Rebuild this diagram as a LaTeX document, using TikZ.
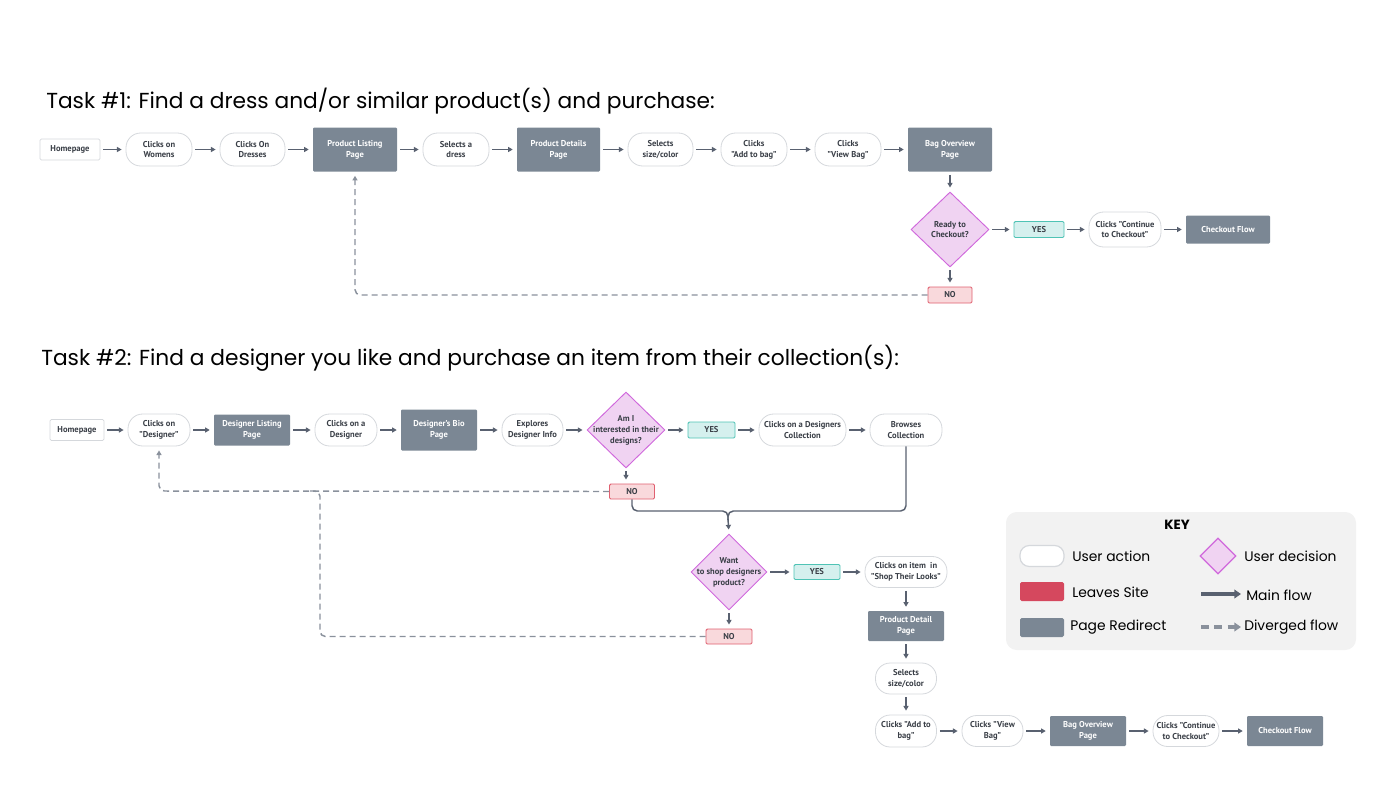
\documentclass[tikz,border=0pt]{standalone}
\usepackage{fontspec}
\setmainfont{PT Sans}
\newfontfamily\titlefont{Poppins}
\usetikzlibrary{shapes.geometric,arrows.meta}
\definecolor{pagegray}{HTML}{7B8794}
\definecolor{txtdark}{HTML}{3A3F47}
\definecolor{pillborder}{HTML}{D5D8DC}
\definecolor{arrowgray}{HTML}{596170}
\definecolor{dashgray}{HTML}{8A919C}
\definecolor{decfill}{HTML}{F0D3F2}
\definecolor{decborder}{HTML}{D068DC}
\definecolor{yesfill}{HTML}{D5F0EE}
\definecolor{yesborder}{HTML}{4FC3B5}
\definecolor{nofill}{HTML}{F9D9DC}
\definecolor{noborder}{HTML}{E06070}
\definecolor{leavered}{HTML}{D5485E}
\definecolor{keybg}{HTML}{F2F2F2}
\begin{document}
\begin{tikzpicture}[x=0.75pt,y=-0.75pt,
  base/.style={font=\bfseries\fontsize{6.4}{8.2}\selectfont, align=center, inner sep=0pt, text=txtdark},
  sz/.style 2 args={minimum width=#1*0.75pt, minimum height=#2*0.75pt},
  home/.style={base, draw=pillborder, fill=white, line width=0.6pt, rounded corners=1pt},
  act/.style={base, draw=pillborder, fill=white, line width=0.6pt, rounded corners=11pt},
  page/.style={base, fill=pagegray, text=white, rounded corners=0.8pt},
  dec/.style={diamond, draw=decborder, fill=decfill, line width=0.7pt, inner sep=0pt},
  dectext/.style={base},
  yes/.style={base, draw=yesborder, fill=yesfill, line width=0.7pt, rounded corners=1pt},
  no/.style={base, draw=noborder, fill=nofill, line width=0.7pt, rounded corners=1pt},
  flow/.style={draw=arrowgray, line width=1.1pt, -{Triangle[length=3.5pt,width=3.8pt]}, shorten >=3pt, shorten <=2.25pt},
  flowline/.style={draw=arrowgray, line width=1.1pt, rounded corners=4pt},
  div/.style={draw=dashgray, line width=1.1pt, dash pattern=on 4.5pt off 3pt, -{Triangle[length=3.5pt,width=3.8pt]}, rounded corners=4pt, shorten >=3pt},
  divline/.style={draw=dashgray, line width=1.1pt, dash pattern=on 4.5pt off 3pt, rounded corners=4pt},
  title/.style={font=\titlefont\fontsize{16.3}{19}\selectfont, anchor=west, inner sep=0pt, text=black},
  keytext/.style={font=\titlefont\fontsize{10.4}{12}\selectfont, anchor=west, inner sep=0pt, text=black}
]
\useasboundingbox (0,0) rectangle (1400,800);

% ---------------- Task 1 ----------------
\node[title] (t1) at (46,101) {Task \#1: Find a dress and/or similar product(s) and purchase:};

\node[home, sz={60}{21}] (h1) at (70,149.5) {Homepage};
\node[act, sz={66}{33}] (a1) at (159,149.5) {Clicks on\\Womens};
\node[act, sz={65}{33}] (a2) at (252.5,149.5) {Clicks On\\Dresses};
\node[page, sz={84}{44}] (p1) at (355,149.5) {Product Listing\\Page};
\node[act, sz={66}{33}] (a3) at (456,149.5) {Selects a\\dress};
\node[page, sz={83}{44}] (p2) at (558.5,149.5) {Product Details\\Page};
\node[act, sz={65}{33}] (a4) at (660.5,149.5) {Selects\\size/color};
\node[act, sz={66}{33}] (a5) at (754,149.5) {Clicks\\"Add to bag"};
\node[act, sz={66}{33}] (a6) at (848,149.5) {Clicks\\"View Bag"};
\node[page, sz={84}{44}] (p3) at (950,149.5) {Bag Overview\\Page};

\node[dec, sz={78}{75}, label={[dectext]center:{Ready to\\Checkout?}}] (d1) at (950,229.5) {};
\node[yes, sz={50}{16}] (y1) at (1039,229.5) {YES};
\node[act, sz={72}{35}] (a7) at (1125,229.5) {Clicks "Continue\\to Checkout"};
\node[page, sz={84}{28}] (p4) at (1228,229.5) {Checkout Flow};
\node[no, sz={44}{16}] (n1) at (950,295) {NO};

\draw[flow] (h1) -- (a1);
\draw[flow] (a1) -- (a2);
\draw[flow] (a2) -- (p1);
\draw[flow] (p1) -- (a3);
\draw[flow] (a3) -- (p2);
\draw[flow] (p2) -- (a4);
\draw[flow] (a4) -- (a5);
\draw[flow] (a5) -- (a6);
\draw[flow] (a6) -- (p3);
\draw[flow] (p3) -- (d1);
\draw[flow] (d1) -- (y1);
\draw[flow] (y1) -- (a7);
\draw[flow] (a7) -- (p4);
\draw[flow] (d1) -- (n1);
\draw[div] (n1.west) -- (355,295) -- (p1.south);

% ---------------- Task 2 ----------------
\node[title] (t2) at (41,358) {Task \#2: Find a designer you like and purchase an item from their collection(s):};

\node[home, sz={54}{21}] (h2) at (77,430) {Homepage};
\node[act, sz={62}{32}] (b1) at (159,430) {Clicks on\\"Designer"};
\node[page, sz={76}{31}] (q1) at (252,430) {Designer Listing\\Page};
\node[act, sz={62}{32}] (b2) at (346,430) {Clicks on a\\Designer};
\node[page, sz={76}{41}] (q2) at (439,430) {Designer's Bio\\Page};
\node[act, sz={61}{32}] (b3) at (532.5,430) {Explores\\Designer Info};
\node[dec, sz={78}{76}, label={[dectext]center:{Am I\\interested in their\\designs?}}] (d2) at (626,430) {};
\node[yes, sz={47}{16}] (y2) at (711.5,430) {YES};
\node[act, sz={87}{32}] (b4) at (802.5,430) {Clicks on a Designers\\Collection};
\node[act, sz={72}{32}] (b5) at (906,430) {Browses\\Collection};
\node[no, sz={45}{15}] (n2) at (632,491.5) {NO};

\node[dec, sz={76}{76}, label={[dectext]center:{Want\\to shop designers\\product?}}] (d3) at (729,572) {};
\node[yes, sz={46}{15}] (y3) at (817,572) {YES};
\node[act, sz={82}{31}] (b6) at (906,572) {Clicks on item\ \ in\\"Shop Their Looks"};
\node[no, sz={46}{15}] (n3) at (729,636.5) {NO};
\node[page, sz={76}{30}] (q3) at (906,626) {Product Detail\\Page};
\node[act, sz={61}{31}] (b7) at (906,678.5) {Selects\\size/color};
\node[act, sz={61}{32}] (b8) at (906,731) {Clicks "Add to\\bag"};
\node[act, sz={61}{31}] (b9) at (992.5,731) {Clicks "View\\Bag"};
\node[page, sz={76}{30}] (q4) at (1088,731) {Bag Overview\\Page};
\node[act, sz={66}{31}] (b10) at (1186,731) {Clicks "Continue\\to Checkout"};
\node[page, sz={76}{30}] (q5) at (1285,731) {Checkout Flow};

\draw[flow] (h2) -- (b1);
\draw[flow] (b1) -- (q1);
\draw[flow] (q1) -- (b2);
\draw[flow] (b2) -- (q2);
\draw[flow] (q2) -- (b3);
\draw[flow] (b3) -- (d2);
\draw[flow] (d2) -- (y2);
\draw[flow] (y2) -- (b4);
\draw[flow] (b4) -- (b5);
\draw[flow] (d2.south) -- (d2.south |- n2.north);

\coordinate (m) at (728,511);
\draw[flowline] (n2.south) -- (632,511) -- (m) -- (728,520);
\draw[flowline] (b5.south) -- (906,511) -- (m) -- (728,520);
\draw[flow, shorten <=0pt] (728,519) -- (d3.north);

\draw[flow] (d3) -- (y3);
\draw[flow] (y3) -- (b6);
\draw[flow] (d3) -- (n3);
\draw[flow] (b6) -- (q3);
\draw[flow] (q3) -- (b7);
\draw[flow] (b7) -- (b8);
\draw[flow] (b8) -- (b9);
\draw[flow] (b9) -- (q4);
\draw[flow] (q4) -- (b10);
\draw[flow] (b10) -- (q5);

\draw[div] (n2.west) -- (159,491) -- (b1.south);
\draw[divline] (n3.west) -- (320,636.5) -- (320,491) -- (306,491);

% ---------------- Key ----------------
\fill[keybg, rounded corners=8pt] (1006,512) rectangle (1356,650);
\node[font=\titlefont\bfseries\fontsize{10}{12}\selectfont, inner sep=0pt] (kt) at (1177,525) {KEY};
\node[draw=pillborder, fill=white, line width=0.9pt, rounded corners=7pt, sz={44}{21}] (k1) at (1042,556) {};
\node[keytext] (k1t) at (1072,556) {User action};
\node[fill=leavered, rounded corners=1.2pt, sz={44}{19}] (k2) at (1042,591.5) {};
\node[keytext] (k2t) at (1072,592) {Leaves Site};
\node[fill=pagegray, rounded corners=1.2pt, sz={44}{19}] (k3) at (1042,627.5) {};
\node[keytext] (k3t) at (1070,627) {Page Redirect};
\node[dec, line width=1pt, sz={36}{36}] (k4) at (1218,556) {};
\node[keytext] (k4t) at (1244,556) {User decision};
\coordinate (k5a) at (1201,594);
\coordinate (k5b) at (1241,594);
\draw[draw=arrowgray, line width=2.4pt, -{Triangle[length=5pt,width=6.5pt]}] (k5a) -- (k5b);
\node[keytext] (k5t) at (1246,595) {Main flow};
\coordinate (k6a) at (1201,627);
\coordinate (k6b) at (1241,627);
\draw[draw=dashgray, line width=2.4pt, dash pattern=on 6pt off 4pt, -{Triangle[length=5pt,width=6.5pt]}] (k6a) -- (k6b);
\node[keytext] (k6t) at (1244,627) {Diverged flow};
\end{tikzpicture}
\end{document}
